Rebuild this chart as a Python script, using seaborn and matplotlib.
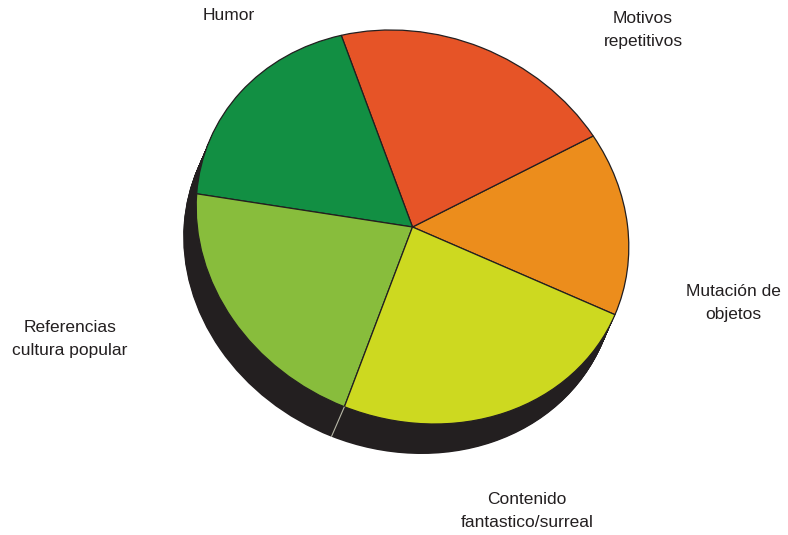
import numpy as np
import matplotlib
matplotlib.use("Agg")
import matplotlib.pyplot as plt
from matplotlib.transforms import Affine2D
import seaborn as sns

# Data (order: counter-clockwise starting at the lower right)
categories = ["Mutación de\nobjetos", "Motivos\nrepetitivos", "Humor",
              "Referencias\ncultura popular", "Contenido\nfantastico/surreal"]
values = [15.0, 21.1, 18.6, 21.0, 24.4]
colors_hex = ["#EC8D1C", "#E65427", "#128F43", "#88BD3C", "#CDD920"]

sns.set_style("white")
plt.rcParams['font.family'] = ['Liberation Sans', 'DejaVu Sans']
palette = sns.color_palette(colors_hex)

W, H = 788, 535
fig = plt.figure(figsize=(W / 100, H / 100), dpi=100)
ax = fig.add_axes([0, 0, 1, 1])

start = -20.6
shadow = "#231F20"

# tilted (projected) disc: unit circle -> screen pixels (y up)
cx, cy = 412.5, H - 227.0
face = Affine2D(np.array([[216.3, 0.0, cx],
                          [-20.0, 196.0, cy],
                          [0.0, 0.0, 1.0]]))
sdx, sdy = -13.0, -30.0


def draw_pie(colors, offset, lw, ec):
    wedges, _ = ax.pie(values, colors=colors, startangle=start, radius=1,
                       center=(0, 0), frame=True,
                       wedgeprops=dict(linewidth=lw, edgecolor=ec))
    tr = face + Affine2D().translate(*offset) + ax.transData
    for w in wedges:
        w.set_transform(tr)
    return wedges


# extruded shadow
n = 40
for i in range(n, 0, -1):
    t = i / n
    draw_pie([shadow] * len(values), (sdx * t, sdy * t), 0, shadow)

# thin highlight where the Referencias/Contenido boundary meets the side
ang = np.deg2rad(start + 360 * sum(values[:4]) / sum(values))
p0 = face.transform((np.cos(ang), np.sin(ang)))
ax.plot([p0[0], p0[0] + sdx], [p0[1], p0[1] + sdy], color="#B8B8A8",
        lw=0.8, solid_capstyle="butt")

# top face
draw_pie(palette, (0, 0), 0.9, shadow)

ax.set_xlim(0, W)
ax.set_ylim(0, H)
ax.set_aspect("auto")
ax.axis("off")

# labels
label_pos = [(733, 303), (643, 30), (229, 16), (70, 339), (527, 511)]
for lab, (px, py) in zip(categories, label_pos):
    fig.text(px / W, 1 - py / H, lab, ha="center", va="center",
             fontsize=12.5, color="#231F20", linespacing=1.6)

fig.savefig("out.png", dpi=100)
